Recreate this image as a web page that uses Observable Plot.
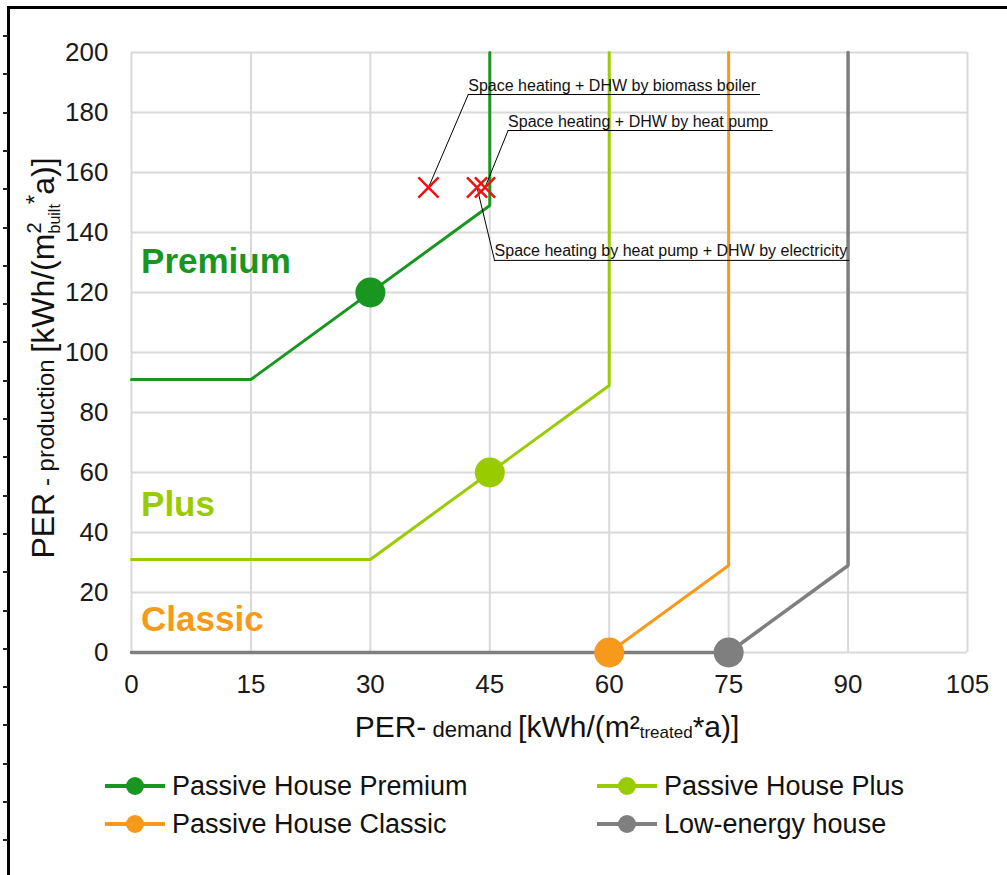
<!DOCTYPE html>
<html>
<head>
<meta charset="utf-8">
<script src="https://cdn.jsdelivr.net/npm/d3@7"></script>
<script src="https://cdn.jsdelivr.net/npm/@observablehq/plot@0.6"></script>
<style>
  body { margin: 0; background: #fff; font-family: "Liberation Sans", Arial, sans-serif; }
  #wrap { position: relative; width: 1007px; height: 875px; overflow: hidden; background: #fff; }
  #frameTop { position: absolute; left: 7px; top: 6px; width: 1000px; height: 3px; background: #000; }
  #frameLeft { position: absolute; left: 7px; top: 6px; width: 2.5px; height: 869px; background: #000; }
  .edge-tick { position: absolute; left: 3px; width: 5px; height: 1.5px; background: #222; }
  #chart { position: absolute; left: 0; top: 0; }
  .legend-item { position: absolute; display: flex; align-items: center; height: 30px; font-size: 27px; color: #111; white-space: nowrap; }
  .legend-item svg { margin-right: 7px; }
</style>
</head>
<body>
<div id="wrap">
  <div id="frameTop"></div>
  <div id="frameLeft"></div>
  <div id="chart"></div>
</div>
<script>
// Axis ticks
const xTicks = [0, 15, 30, 45, 60, 75, 90, 105];
const yTicks = [0, 20, 40, 60, 80, 100, 120, 140, 160, 180, 200];

// Passive House classes: boundary polylines (PER demand vs. PER production)
const classNames = ["Passive House Premium", "Passive House Plus", "Passive House Classic", "Low-energy house"];
const classShort = ["Premium", "Plus", "Classic", null];
const classColors = ["#18961f", "#99cc00", "#f79a1c", "#7f7f7f"];
const premiumX = [0, 15, 45, 45];
const premiumY = [91, 91, 149, 200];
const plusX = [0, 30, 60, 60];
const plusY = [31, 31, 89, 200];
const classicX = [0, 60, 75, 75];
const classicY = [0, 0, 29, 200];
const lowX = [0, 75, 90, 90];
const lowY = [0, 0, 29, 200];

// Reference point of each class
const keyX = [30, 45, 60, 75];
const keyY = [120, 60, 0, 0];

// Class name labels inside the plot
const labelX = [1.2, 1.2, 1.2];
const labelY = [130.3, 49.3, 10.8];

// Example buildings (red crosses)
const caseX = [37.3, 43.4, 44.4];
const caseY = [155, 155, 155];

// Callouts for the example buildings
const noteText = [
  "Space heating + DHW by biomass boiler",
  "Space heating + DHW by heat pump",
  "Space heating by heat pump + DHW by electricity"
];
const noteX1 = [42.3, 47.3, 45.6];
const noteX2 = [79.0, 80.6, 90.2];
const noteY = [186, 174, 130.7];
const noteCase = [0, 2, 1];

const polyX = [premiumX, plusX, classicX, lowX];
const polyY = [premiumY, plusY, classicY, lowY];
const drawOrder = [2, 3, 1, 0];
const lines = drawOrder.flatMap(k => polyX[k].map((x, i) => ({cls: classNames[k], order: k, x, y: polyY[k][i]})));
const keys = keyX.map((x, i) => ({cls: classNames[i], x, y: keyY[i]}));
const labels = labelX.map((x, i) => ({text: classShort[i], color: classColors[i], x, y: labelY[i]}));
const cases = caseX.map((x, i) => ({x, y: caseY[i]}));
const notes = noteText.map((t, i) => ({
  text: t, x1: noteX1[i], x2: noteX2[i], y: noteY[i],
  tx: caseX[noteCase[i]], ty: caseY[noteCase[i]]
}));

const color = {domain: classNames, range: classColors};

const chart = Plot.plot({
  width: 1007,
  height: 760,
  marginLeft: 131,
  marginRight: 40,
  marginTop: 52,
  marginBottom: 108,
  style: {fontFamily: "'Liberation Sans', Arial, sans-serif", fontSize: "26px", color: "#1a1a1a", background: "transparent", overflow: "visible"},
  x: {domain: [0, 105]},
  y: {domain: [0, 200]},
  color,
  marks: [
    Plot.gridX(xTicks, {stroke: "#d9d9d9", strokeOpacity: 1, strokeWidth: 2}),
    Plot.gridY(yTicks, {stroke: "#d9d9d9", strokeOpacity: 1, strokeWidth: 2}),
    Plot.axisX(xTicks, {tickSize: 0, tickPadding: 22, label: null, fontSize: 26}),
    Plot.axisY(yTicks, {tickSize: 0, tickPadding: 23, label: null, fontSize: 26}),
    ...drawOrder.map(k => Plot.line(lines.filter(d => d.order === k), {
      x: "x", y: "y", stroke: classColors[k], strokeWidth: k === 3 ? 3.5 : 3, strokeLinejoin: "miter"
    })),
    Plot.dot(keys, {x: "x", y: "y", fill: "cls", r: 15}),
    Plot.text(labels, {x: "x", y: "y", text: "text", fill: "color", textAnchor: "start", fontSize: 35, fontWeight: "bold"}),
    Plot.link(notes, {x1: "x1", y1: "y", x2: "tx", y2: "ty", stroke: "#000", strokeWidth: 1}),
    Plot.ruleY(notes, {x1: "x1", x2: "x2", y: "y", stroke: "#000", strokeWidth: 1}),
    Plot.text(notes, {x: "x1", y: "y", text: "text", textAnchor: "start", lineAnchor: "bottom", dy: -4, fontSize: 16, fill: "#111"}),
    Plot.dot(cases, {x: "x", y: "y", symbol: "times", r: 9.2, stroke: "#ee1111", strokeWidth: 2.5})
  ]
});

// Axis titles with mixed font sizes, sub- and superscripts
const svg = d3.select(chart);
const xt = svg.append("text")
  .attr("x", 547).attr("y", 737)
  .attr("text-anchor", "middle")
  .attr("fill", "#111")
  .style("font-size", "30px");
xt.append("tspan").text("PER-");
xt.append("tspan").style("font-size", "22px").text(" demand ");
xt.append("tspan").text("[kWh/(m²");
xt.append("tspan").style("font-size", "17px").attr("dy", 1).text("treated");
xt.append("tspan").attr("dy", -1).text("*a)]");

const yt = svg.append("text")
  .attr("transform", "translate(54,358) rotate(-90)")
  .attr("text-anchor", "middle")
  .attr("fill", "#111")
  .style("font-size", "32px");
yt.append("tspan").text("PER");
yt.append("tspan").style("font-size", "24px").text(" - production ");
yt.append("tspan").text("[kWh/(m");
yt.append("tspan").style("font-size", "20px").attr("dy", -13).text("2");
yt.append("tspan").style("font-size", "16px").attr("dy", 19).attr("dx", -11).text("built");
yt.append("tspan").style("font-size", "24px").attr("dy", -17).text("*");
yt.append("tspan").attr("dy", 11).text("a)]");

document.getElementById("chart").appendChild(chart);

// Legend in two columns below the chart
const wrap = document.getElementById("wrap");
const legendCols = [105, 597];
const legendRows = [771, 809];
classNames.forEach((name, i) => {
  const item = document.createElement("div");
  item.className = "legend-item";
  item.style.left = legendCols[i % 2] + "px";
  item.style.top = legendRows[Math.floor(i / 2)] + "px";
  const sw = d3.create("svg").attr("width", 60).attr("height", 30);
  sw.append("line").attr("x1", 0).attr("x2", 60).attr("y1", 15).attr("y2", 15)
    .attr("stroke", classColors[i]).attr("stroke-width", 4);
  sw.append("circle").attr("cx", 30).attr("cy", 15).attr("r", 9).attr("fill", classColors[i]);
  item.appendChild(sw.node());
  const label = document.createElement("span");
  label.textContent = name;
  item.appendChild(label);
  wrap.appendChild(item);
});

// Small marks along the left edge of the frame
for (let y = 35; y < 875; y += 38.3) {
  const t = document.createElement("div");
  t.className = "edge-tick";
  t.style.top = Math.round(y) + "px";
  wrap.appendChild(t);
}
</script>
</body>
</html>
